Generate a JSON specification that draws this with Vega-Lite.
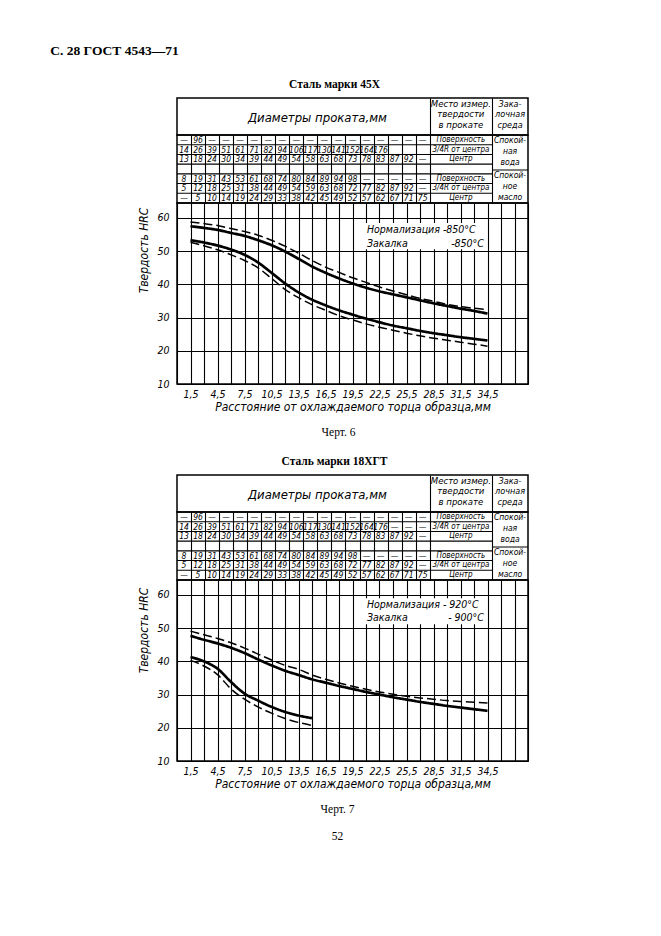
{
  "$schema": "https://vega.github.io/schema/vega-lite/v6.json",
  "background": "white",
  "padding": {"left": 50, "top": 44, "right": 5, "bottom": 5},
  "title": {"text": "С. 28 ГОСТ 4543—71", "anchor": "start", "font": "Liberation Serif", "fontSize": 13.5, "fontWeight": "bold", "color": "black", "dx": -86, "offset": 20},
  "spacing": 15,
  "datasets": {
    "cells45": [
      {"r":0,"c":0,"t":"—"},{"r":0,"c":1,"t":"96"},{"r":0,"c":2,"t":"—"},{"r":0,"c":3,"t":"—"},{"r":0,"c":4,"t":"—"},{"r":0,"c":5,"t":"—"},{"r":0,"c":6,"t":"—"},{"r":0,"c":7,"t":"—"},{"r":0,"c":8,"t":"—"},{"r":0,"c":9,"t":"—"},{"r":0,"c":10,"t":"—"},{"r":0,"c":11,"t":"—"},{"r":0,"c":12,"t":"—"},{"r":0,"c":13,"t":"—"},{"r":0,"c":14,"t":"—"},{"r":0,"c":15,"t":"—"},{"r":0,"c":16,"t":"—"},{"r":0,"c":17,"t":"—"},
      {"r":1,"c":0,"t":"14"},{"r":1,"c":1,"t":"26"},{"r":1,"c":2,"t":"39"},{"r":1,"c":3,"t":"51"},{"r":1,"c":4,"t":"61"},{"r":1,"c":5,"t":"71"},{"r":1,"c":6,"t":"82"},{"r":1,"c":7,"t":"94"},{"r":1,"c":8,"t":"106"},{"r":1,"c":9,"t":"117"},{"r":1,"c":10,"t":"130"},{"r":1,"c":11,"t":"141"},{"r":1,"c":12,"t":"152"},{"r":1,"c":13,"t":"164"},{"r":1,"c":14,"t":"176"},
      {"r":2,"c":0,"t":"13"},{"r":2,"c":1,"t":"18"},{"r":2,"c":2,"t":"24"},{"r":2,"c":3,"t":"30"},{"r":2,"c":4,"t":"34"},{"r":2,"c":5,"t":"39"},{"r":2,"c":6,"t":"44"},{"r":2,"c":7,"t":"49"},{"r":2,"c":8,"t":"54"},{"r":2,"c":9,"t":"58"},{"r":2,"c":10,"t":"63"},{"r":2,"c":11,"t":"68"},{"r":2,"c":12,"t":"73"},{"r":2,"c":13,"t":"78"},{"r":2,"c":14,"t":"83"},{"r":2,"c":15,"t":"87"},{"r":2,"c":16,"t":"92"},{"r":2,"c":17,"t":"—"},
      {"r":4,"c":0,"t":"8"},{"r":4,"c":1,"t":"19"},{"r":4,"c":2,"t":"31"},{"r":4,"c":3,"t":"43"},{"r":4,"c":4,"t":"53"},{"r":4,"c":5,"t":"61"},{"r":4,"c":6,"t":"68"},{"r":4,"c":7,"t":"74"},{"r":4,"c":8,"t":"80"},{"r":4,"c":9,"t":"84"},{"r":4,"c":10,"t":"89"},{"r":4,"c":11,"t":"94"},{"r":4,"c":12,"t":"98"},{"r":4,"c":13,"t":"—"},{"r":4,"c":14,"t":"—"},{"r":4,"c":15,"t":"—"},{"r":4,"c":16,"t":"—"},{"r":4,"c":17,"t":"—"},
      {"r":5,"c":0,"t":"5"},{"r":5,"c":1,"t":"12"},{"r":5,"c":2,"t":"18"},{"r":5,"c":3,"t":"25"},{"r":5,"c":4,"t":"31"},{"r":5,"c":5,"t":"38"},{"r":5,"c":6,"t":"44"},{"r":5,"c":7,"t":"49"},{"r":5,"c":8,"t":"54"},{"r":5,"c":9,"t":"59"},{"r":5,"c":10,"t":"63"},{"r":5,"c":11,"t":"68"},{"r":5,"c":12,"t":"72"},{"r":5,"c":13,"t":"77"},{"r":5,"c":14,"t":"82"},{"r":5,"c":15,"t":"87"},{"r":5,"c":16,"t":"92"},{"r":5,"c":17,"t":"—"},
      {"r":6,"c":0,"t":"—"},{"r":6,"c":1,"t":"5"},{"r":6,"c":2,"t":"10"},{"r":6,"c":3,"t":"14"},{"r":6,"c":4,"t":"19"},{"r":6,"c":5,"t":"24"},{"r":6,"c":6,"t":"29"},{"r":6,"c":7,"t":"33"},{"r":6,"c":8,"t":"38"},{"r":6,"c":9,"t":"42"},{"r":6,"c":10,"t":"45"},{"r":6,"c":11,"t":"49"},{"r":6,"c":12,"t":"52"},{"r":6,"c":13,"t":"57"},{"r":6,"c":14,"t":"62"},{"r":6,"c":15,"t":"67"},{"r":6,"c":16,"t":"71"},{"r":6,"c":17,"t":"75"}
    ],
    "extra18": [
      {"r":1,"c":15,"t":"—"},{"r":1,"c":16,"t":"—"},{"r":1,"c":17,"t":"—"}
    ],
    "mesto": [
      {"r":0,"t":"Поверхность"},{"r":1,"t":"3/4R от центра"},{"r":2,"t":"Центр"},
      {"r":4,"t":"Поверхность"},{"r":5,"t":"3/4R от центра"},{"r":6,"t":"Центр"}
    ],
    "bounds": [{"b":0.5},{"b":1.5},{"b":2.5},{"b":3.5},{"b":4.5},{"b":5.5}],
    "st45": [
      {"curve":"U1","kind":"1","mm":1.5,"hrc":57.5},{"curve":"U1","kind":"1","mm":3,"hrc":57},{"curve":"U1","kind":"1","mm":4.5,"hrc":56.4},{"curve":"U1","kind":"1","mm":6,"hrc":55.5},{"curve":"U1","kind":"1","mm":7.5,"hrc":54.6},{"curve":"U1","kind":"1","mm":9,"hrc":53.3},{"curve":"U1","kind":"1","mm":10.5,"hrc":51.8},{"curve":"U1","kind":"1","mm":12,"hrc":49.9},{"curve":"U1","kind":"1","mm":13.5,"hrc":47.7},{"curve":"U1","kind":"1","mm":15,"hrc":45.4},{"curve":"U1","kind":"1","mm":16.5,"hrc":43.5},{"curve":"U1","kind":"1","mm":18,"hrc":41.8},{"curve":"U1","kind":"1","mm":19.5,"hrc":40.3},{"curve":"U1","kind":"1","mm":21,"hrc":39},{"curve":"U1","kind":"1","mm":22.5,"hrc":37.9},{"curve":"U1","kind":"1","mm":24,"hrc":37},{"curve":"U1","kind":"1","mm":25.5,"hrc":36.1},{"curve":"U1","kind":"1","mm":27,"hrc":35.2},{"curve":"U1","kind":"1","mm":28.5,"hrc":34.3},{"curve":"U1","kind":"1","mm":30,"hrc":33.5},{"curve":"U1","kind":"1","mm":31.5,"hrc":32.7},{"curve":"U1","kind":"1","mm":33,"hrc":32},{"curve":"U1","kind":"1","mm":34.5,"hrc":31.2},
      {"curve":"U2","kind":"2","mm":1.5,"hrc":58.8},{"curve":"U2","kind":"2","mm":3,"hrc":58.3},{"curve":"U2","kind":"2","mm":4.5,"hrc":57.7},{"curve":"U2","kind":"2","mm":6,"hrc":56.8},{"curve":"U2","kind":"2","mm":7.5,"hrc":55.9},{"curve":"U2","kind":"2","mm":9,"hrc":54.8},{"curve":"U2","kind":"2","mm":10.5,"hrc":53.3},{"curve":"U2","kind":"2","mm":12,"hrc":51.5},{"curve":"U2","kind":"2","mm":13.5,"hrc":49.4},{"curve":"U2","kind":"2","mm":15,"hrc":47.2},{"curve":"U2","kind":"2","mm":16.5,"hrc":45.2},{"curve":"U2","kind":"2","mm":18,"hrc":43.6},{"curve":"U2","kind":"2","mm":19.5,"hrc":42},{"curve":"U2","kind":"2","mm":21,"hrc":40.6},{"curve":"U2","kind":"2","mm":22.5,"hrc":39.2},{"curve":"U2","kind":"2","mm":24,"hrc":38},{"curve":"U2","kind":"2","mm":25.5,"hrc":36.9},{"curve":"U2","kind":"2","mm":27,"hrc":35.8},{"curve":"U2","kind":"2","mm":28.5,"hrc":34.9},{"curve":"U2","kind":"2","mm":30,"hrc":34},{"curve":"U2","kind":"2","mm":31.5,"hrc":33.3},{"curve":"U2","kind":"2","mm":33,"hrc":32.8},{"curve":"U2","kind":"2","mm":34.5,"hrc":32.4},
      {"curve":"L1","kind":"1","mm":1.5,"hrc":53.3},{"curve":"L1","kind":"1","mm":3,"hrc":52.6},{"curve":"L1","kind":"1","mm":4.5,"hrc":51.7},{"curve":"L1","kind":"1","mm":6,"hrc":50.5},{"curve":"L1","kind":"1","mm":7.5,"hrc":48.9},{"curve":"L1","kind":"1","mm":9,"hrc":46.6},{"curve":"L1","kind":"1","mm":10.5,"hrc":43.5},{"curve":"L1","kind":"1","mm":12,"hrc":40.3},{"curve":"L1","kind":"1","mm":13.5,"hrc":37.6},{"curve":"L1","kind":"1","mm":15,"hrc":35.4},{"curve":"L1","kind":"1","mm":16.5,"hrc":33.7},{"curve":"L1","kind":"1","mm":18,"hrc":32.2},{"curve":"L1","kind":"1","mm":19.5,"hrc":30.9},{"curve":"L1","kind":"1","mm":21,"hrc":29.7},{"curve":"L1","kind":"1","mm":22.5,"hrc":28.6},{"curve":"L1","kind":"1","mm":24,"hrc":27.6},{"curve":"L1","kind":"1","mm":25.5,"hrc":26.8},{"curve":"L1","kind":"1","mm":27,"hrc":26},{"curve":"L1","kind":"1","mm":28.5,"hrc":25.3},{"curve":"L1","kind":"1","mm":30,"hrc":24.7},{"curve":"L1","kind":"1","mm":31.5,"hrc":24.1},{"curve":"L1","kind":"1","mm":33,"hrc":23.6},{"curve":"L1","kind":"1","mm":34.5,"hrc":23.1},
      {"curve":"L2","kind":"2","mm":1.5,"hrc":52.7},{"curve":"L2","kind":"2","mm":3,"hrc":51.6},{"curve":"L2","kind":"2","mm":4.5,"hrc":50.4},{"curve":"L2","kind":"2","mm":6,"hrc":48.9},{"curve":"L2","kind":"2","mm":7.5,"hrc":47.2},{"curve":"L2","kind":"2","mm":9,"hrc":45},{"curve":"L2","kind":"2","mm":10.5,"hrc":41.8},{"curve":"L2","kind":"2","mm":12,"hrc":38.5},{"curve":"L2","kind":"2","mm":13.5,"hrc":36},{"curve":"L2","kind":"2","mm":15,"hrc":33.9},{"curve":"L2","kind":"2","mm":16.5,"hrc":32.2},{"curve":"L2","kind":"2","mm":18,"hrc":30.6},{"curve":"L2","kind":"2","mm":19.5,"hrc":29.3},{"curve":"L2","kind":"2","mm":21,"hrc":28.1},{"curve":"L2","kind":"2","mm":22.5,"hrc":27.1},{"curve":"L2","kind":"2","mm":24,"hrc":26.2},{"curve":"L2","kind":"2","mm":25.5,"hrc":25.3},{"curve":"L2","kind":"2","mm":27,"hrc":24.5},{"curve":"L2","kind":"2","mm":28.5,"hrc":23.8},{"curve":"L2","kind":"2","mm":30,"hrc":23.2},{"curve":"L2","kind":"2","mm":31.5,"hrc":22.6},{"curve":"L2","kind":"2","mm":33,"hrc":22},{"curve":"L2","kind":"2","mm":34.5,"hrc":21.4}
    ],
    "st18": [
      {"curve":"U1","kind":"1","mm":1.5,"hrc":47.7},{"curve":"U1","kind":"1","mm":3,"hrc":46.5},{"curve":"U1","kind":"1","mm":4.5,"hrc":45.4},{"curve":"U1","kind":"1","mm":6,"hrc":44.1},{"curve":"U1","kind":"1","mm":7.5,"hrc":42.5},{"curve":"U1","kind":"1","mm":9,"hrc":40.6},{"curve":"U1","kind":"1","mm":10.5,"hrc":38.8},{"curve":"U1","kind":"1","mm":12,"hrc":37.2},{"curve":"U1","kind":"1","mm":13.5,"hrc":35.9},{"curve":"U1","kind":"1","mm":15,"hrc":34.6},{"curve":"U1","kind":"1","mm":16.5,"hrc":33.6},{"curve":"U1","kind":"1","mm":18,"hrc":32.6},{"curve":"U1","kind":"1","mm":19.5,"hrc":31.7},{"curve":"U1","kind":"1","mm":21,"hrc":30.8},{"curve":"U1","kind":"1","mm":22.5,"hrc":30},{"curve":"U1","kind":"1","mm":24,"hrc":29.2},{"curve":"U1","kind":"1","mm":25.5,"hrc":28.5},{"curve":"U1","kind":"1","mm":27,"hrc":27.8},{"curve":"U1","kind":"1","mm":28.5,"hrc":27.2},{"curve":"U1","kind":"1","mm":30,"hrc":26.6},{"curve":"U1","kind":"1","mm":31.5,"hrc":26.1},{"curve":"U1","kind":"1","mm":33,"hrc":25.6},{"curve":"U1","kind":"1","mm":34.5,"hrc":25.1},
      {"curve":"U2","kind":"2","mm":1.5,"hrc":49.1},{"curve":"U2","kind":"2","mm":3,"hrc":48},{"curve":"U2","kind":"2","mm":4.5,"hrc":46.9},{"curve":"U2","kind":"2","mm":6,"hrc":45.6},{"curve":"U2","kind":"2","mm":7.5,"hrc":44},{"curve":"U2","kind":"2","mm":9,"hrc":42.2},{"curve":"U2","kind":"2","mm":10.5,"hrc":40.4},{"curve":"U2","kind":"2","mm":12,"hrc":38.8},{"curve":"U2","kind":"2","mm":13.5,"hrc":37.6},{"curve":"U2","kind":"2","mm":15,"hrc":35.9},{"curve":"U2","kind":"2","mm":16.5,"hrc":34.6},{"curve":"U2","kind":"2","mm":18,"hrc":33.5},{"curve":"U2","kind":"2","mm":19.5,"hrc":32.5},{"curve":"U2","kind":"2","mm":21,"hrc":31.6},{"curve":"U2","kind":"2","mm":22.5,"hrc":30.8},{"curve":"U2","kind":"2","mm":24,"hrc":30.1},{"curve":"U2","kind":"2","mm":25.5,"hrc":29.5},{"curve":"U2","kind":"2","mm":27,"hrc":29},{"curve":"U2","kind":"2","mm":28.5,"hrc":28.6},{"curve":"U2","kind":"2","mm":30,"hrc":28.2},{"curve":"U2","kind":"2","mm":31.5,"hrc":27.9},{"curve":"U2","kind":"2","mm":33,"hrc":27.7},{"curve":"U2","kind":"2","mm":34.5,"hrc":27.5},
      {"curve":"L1","kind":"1","mm":1.5,"hrc":41.3},{"curve":"L1","kind":"1","mm":3,"hrc":40},{"curve":"L1","kind":"1","mm":4.5,"hrc":37.8},{"curve":"L1","kind":"1","mm":6,"hrc":33.8},{"curve":"L1","kind":"1","mm":7.5,"hrc":30.3},{"curve":"L1","kind":"1","mm":9,"hrc":28.2},{"curve":"L1","kind":"1","mm":10.5,"hrc":26.3},{"curve":"L1","kind":"1","mm":12,"hrc":24.8},{"curve":"L1","kind":"1","mm":13.5,"hrc":23.7},{"curve":"L1","kind":"1","mm":15,"hrc":22.9},
      {"curve":"L2","kind":"2","mm":1.5,"hrc":40.3},{"curve":"L2","kind":"2","mm":3,"hrc":38.6},{"curve":"L2","kind":"2","mm":4.5,"hrc":36},{"curve":"L2","kind":"2","mm":6,"hrc":31.7},{"curve":"L2","kind":"2","mm":7.5,"hrc":28.6},{"curve":"L2","kind":"2","mm":9,"hrc":26.3},{"curve":"L2","kind":"2","mm":10.5,"hrc":24.4},{"curve":"L2","kind":"2","mm":12,"hrc":22.8},{"curve":"L2","kind":"2","mm":13.5,"hrc":21.6},{"curve":"L2","kind":"2","mm":15,"hrc":20.7}
    ]
  },
  "vconcat": [
    {
      "spacing": 0,
      "bounds": "flush",
      "vconcat": [
        {
          "width": 351, "height": 37,
          "title": {"text": "Сталь марки 45Х", "font": "Liberation Serif", "fontSize": 11.5, "fontWeight": "bold", "color": "black", "offset": 8, "dx": -18},
          "layer": [
            {"data": {"values": [{"t": "Диаметры проката,мм"}]}, "mark": {"type": "text", "fontSize": 13}, "encoding": {
              "x": {"datum": 9.5, "type": "quantitative", "scale": {"domain": [-0.5, 24.5], "nice": false, "zero": false}, "axis": {"values": [17.5, 21.94], "tickCount": 200, "grid": true, "labels": false, "ticks": false, "domain": false, "title": null}},
              "y": {"datum": 0.46, "type": "quantitative", "scale": {"domain": [0, 1], "nice": false, "zero": false}, "axis": null},
              "text": {"field": "t"}}},
            {"data": {"values": [{"t": "Место измер.\nтвердости\nв прокате"}]}, "mark": {"type": "text", "fontSize": 9.5, "lineBreak": "\n", "lineHeight": 10.5}, "encoding": {
              "x": {"datum": 19.72, "type": "quantitative"}, "y": {"datum": 0.85, "type": "quantitative"}, "text": {"field": "t"}}},
            {"data": {"values": [{"t": "Зака-\nлочная\nсреда"}]}, "mark": {"type": "text", "fontSize": 9, "lineBreak": "\n", "lineHeight": 10.5}, "encoding": {
              "x": {"datum": 23.22, "type": "quantitative"}, "y": {"datum": 0.85, "type": "quantitative"}, "text": {"field": "t"}}}
          ]
        },
        {
          "width": 351, "height": 68,
          "layer": [
            {"data": {"name": "cells45"}, "mark": {"type": "text", "fontSize": 8.5}, "encoding": {
              "x": {"field": "c", "type": "quantitative", "scale": {"domain": [-0.5, 24.5], "nice": false, "zero": false}, "axis": {"values": [0.5,1.5,2.5,3.5,4.5,5.5,6.5,7.5,8.5,9.5,10.5,11.5,12.5,13.5,14.5,15.5,16.5,17.5,21.94], "tickCount": 200, "grid": true, "labels": false, "ticks": false, "domain": false, "title": null}},
              "y": {"field": "r", "type": "quantitative", "scale": {"domain": [-0.5, 6.5], "nice": false, "zero": false, "reverse": true}, "axis": null},
              "text": {"field": "t"}}},
            {"data": {"name": "mesto"}, "mark": {"type": "text", "fontSize": 8}, "encoding": {
              "x": {"datum": 19.72, "type": "quantitative"}, "y": {"field": "r", "type": "quantitative"}, "text": {"field": "t"}}},
            {"data": {"name": "bounds"}, "mark": {"type": "rule", "color": "black", "strokeWidth": 1.1}, "encoding": {
              "x": {"datum": -0.5, "type": "quantitative"}, "x2": {"datum": 21.94}, "y": {"field": "b", "type": "quantitative"}}},
            {"data": {"values": [{"t": "граница сред"}]}, "mark": {"type": "rule", "color": "black", "strokeWidth": 1.1}, "encoding": {
              "x": {"datum": 21.94, "type": "quantitative"}, "x2": {"datum": 24.5}, "y": {"datum": 3.1, "type": "quantitative"}}},
            {"data": {"values": [{"t": "Спокой-\nная\nвода"}]}, "mark": {"type": "text", "fontSize": 8.5, "lineBreak": "\n", "lineHeight": 11}, "encoding": {
              "x": {"datum": 23.22, "type": "quantitative"}, "y": {"datum": 0.05, "type": "quantitative"}, "text": {"field": "t"}}},
            {"data": {"values": [{"t": "Спокой-\nное\nмасло"}]}, "mark": {"type": "text", "fontSize": 8.5, "lineBreak": "\n", "lineHeight": 11}, "encoding": {
              "x": {"datum": 23.22, "type": "quantitative"}, "y": {"datum": 3.62, "type": "quantitative"}, "text": {"field": "t"}}}
          ]
        },
        {
          "width": 351, "height": 181,
          "title": {"text": "Черт. 6", "orient": "bottom", "font": "Liberation Serif", "fontSize": 11.5, "fontWeight": "normal", "color": "black", "offset": 14, "dx": -14},
          "layer": [
            {"data": {"name": "st45"}, "mark": {"type": "line", "interpolate": "monotone", "color": "black"}, "encoding": {
              "x": {"field": "mm", "type": "quantitative", "scale": {"domain": [0, 39], "nice": false, "zero": false},
                "axis": {"values": [0,1.5,3,4.5,6,7.5,9,10.5,12,13.5,15,16.5,18,19.5,21,22.5,24,25.5,27,28.5,30,31.5,33,34.5,36,37.5,39], "tickCount": 200, "format": ".1f", "labelExpr": "(datum.value % 3 == 1.5 && datum.value < 35) ? replace(datum.label, '.', ',') : ''", "labelOverlap": false, "labelFlush": false, "grid": true, "ticks": false, "domain": false, "labelPadding": 5, "title": "Расстояние от охлаждаемого торца образца,мм", "titlePadding": 2}},
              "y": {"field": "hrc", "type": "quantitative", "scale": {"domain": [10, 64.5], "nice": false, "zero": false},
                "axis": {"values": [10,20,30,40,50,60], "tickCount": 200, "format": "d", "grid": true, "ticks": false, "domain": false, "labelPadding": 8, "labelOverlap": false, "title": "Твердость HRC", "titleX": -34, "titleY": 47, "titleBaseline": "middle", "titleAngle": -90}},
              "detail": {"field": "curve"},
              "strokeDash": {"field": "kind", "type": "nominal", "scale": {"domain": ["1", "2"], "range": [[1, 0], [9, 4]]}, "legend": null},
              "strokeWidth": {"field": "kind", "type": "nominal", "scale": {"domain": ["1", "2"], "range": [2.7, 1.5]}, "legend": null}}},
            {"data": {"values": [{"t": "режим"}]}, "mark": {"type": "rect", "fill": "white"}, "encoding": {
              "x": {"datum": 20.6, "type": "quantitative"}, "x2": {"datum": 34.4}, "y": {"datum": 58.5, "type": "quantitative"}, "y2": {"datum": 50.6}}},
            {"data": {"values": [{"t": "Нормализация -850°С"}]}, "mark": {"type": "text", "fontSize": 10.5, "align": "left"}, "encoding": {
              "x": {"datum": 21.1, "type": "quantitative"}, "y": {"datum": 56.3, "type": "quantitative"}, "text": {"field": "t"}}},
            {"data": {"values": [{"t": "Закалка"}]}, "mark": {"type": "text", "fontSize": 10.5, "align": "left"}, "encoding": {
              "x": {"datum": 21.1, "type": "quantitative"}, "y": {"datum": 52.3, "type": "quantitative"}, "text": {"field": "t"}}},
            {"data": {"values": [{"t": "-850°С"}]}, "mark": {"type": "text", "fontSize": 10.5, "align": "right"}, "encoding": {
              "x": {"datum": 34.1, "type": "quantitative"}, "y": {"datum": 52.3, "type": "quantitative"}, "text": {"field": "t"}}}
          ]
        }
      ]
    },
    {
      "spacing": 0,
      "bounds": "flush",
      "vconcat": [
        {
          "width": 351, "height": 37,
          "title": {"text": "Сталь марки 18ХГТ", "font": "Liberation Serif", "fontSize": 11.5, "fontWeight": "bold", "color": "black", "offset": 8, "dx": -18},
          "layer": [
            {"data": {"values": [{"t": "Диаметры проката,мм"}]}, "mark": {"type": "text", "fontSize": 13}, "encoding": {
              "x": {"datum": 9.5, "type": "quantitative", "scale": {"domain": [-0.5, 24.5], "nice": false, "zero": false}, "axis": {"values": [17.5, 21.94], "tickCount": 200, "grid": true, "labels": false, "ticks": false, "domain": false, "title": null}},
              "y": {"datum": 0.46, "type": "quantitative", "scale": {"domain": [0, 1], "nice": false, "zero": false}, "axis": null},
              "text": {"field": "t"}}},
            {"data": {"values": [{"t": "Место измер.\nтвердости\nв прокате"}]}, "mark": {"type": "text", "fontSize": 9.5, "lineBreak": "\n", "lineHeight": 10.5}, "encoding": {
              "x": {"datum": 19.72, "type": "quantitative"}, "y": {"datum": 0.85, "type": "quantitative"}, "text": {"field": "t"}}},
            {"data": {"values": [{"t": "Зака-\nлочная\nсреда"}]}, "mark": {"type": "text", "fontSize": 9, "lineBreak": "\n", "lineHeight": 10.5}, "encoding": {
              "x": {"datum": 23.22, "type": "quantitative"}, "y": {"datum": 0.85, "type": "quantitative"}, "text": {"field": "t"}}}
          ]
        },
        {
          "width": 351, "height": 68,
          "layer": [
            {"data": {"name": "cells45"}, "mark": {"type": "text", "fontSize": 8.5}, "encoding": {
              "x": {"field": "c", "type": "quantitative", "scale": {"domain": [-0.5, 24.5], "nice": false, "zero": false}, "axis": {"values": [0.5,1.5,2.5,3.5,4.5,5.5,6.5,7.5,8.5,9.5,10.5,11.5,12.5,13.5,14.5,15.5,16.5,17.5,21.94], "tickCount": 200, "grid": true, "labels": false, "ticks": false, "domain": false, "title": null}},
              "y": {"field": "r", "type": "quantitative", "scale": {"domain": [-0.5, 6.5], "nice": false, "zero": false, "reverse": true}, "axis": null},
              "text": {"field": "t"}}},
            {"data": {"name": "extra18"}, "mark": {"type": "text", "fontSize": 8.5}, "encoding": {
              "x": {"field": "c", "type": "quantitative"}, "y": {"field": "r", "type": "quantitative"}, "text": {"field": "t"}}},
            {"data": {"name": "mesto"}, "mark": {"type": "text", "fontSize": 8}, "encoding": {
              "x": {"datum": 19.72, "type": "quantitative"}, "y": {"field": "r", "type": "quantitative"}, "text": {"field": "t"}}},
            {"data": {"name": "bounds"}, "mark": {"type": "rule", "color": "black", "strokeWidth": 1.1}, "encoding": {
              "x": {"datum": -0.5, "type": "quantitative"}, "x2": {"datum": 21.94}, "y": {"field": "b", "type": "quantitative"}}},
            {"data": {"values": [{"t": "граница сред"}]}, "mark": {"type": "rule", "color": "black", "strokeWidth": 1.1}, "encoding": {
              "x": {"datum": 21.94, "type": "quantitative"}, "x2": {"datum": 24.5}, "y": {"datum": 3.1, "type": "quantitative"}}},
            {"data": {"values": [{"t": "Спокой-\nная\nвода"}]}, "mark": {"type": "text", "fontSize": 8.5, "lineBreak": "\n", "lineHeight": 11}, "encoding": {
              "x": {"datum": 23.22, "type": "quantitative"}, "y": {"datum": 0.05, "type": "quantitative"}, "text": {"field": "t"}}},
            {"data": {"values": [{"t": "Спокой-\nное\nмасло"}]}, "mark": {"type": "text", "fontSize": 8.5, "lineBreak": "\n", "lineHeight": 11}, "encoding": {
              "x": {"datum": 23.22, "type": "quantitative"}, "y": {"datum": 3.62, "type": "quantitative"}, "text": {"field": "t"}}}
          ]
        },
        {
          "width": 351, "height": 181,
          "title": {"text": "Черт. 7", "subtitle": "52", "orient": "bottom", "font": "Liberation Serif", "fontSize": 11.5, "fontWeight": "normal", "color": "black", "subtitleFont": "Liberation Serif", "subtitleFontSize": 11.5, "subtitleColor": "black", "subtitlePadding": 16, "offset": 14, "dx": -15},
          "layer": [
            {"data": {"name": "st18"}, "mark": {"type": "line", "interpolate": "monotone", "color": "black"}, "encoding": {
              "x": {"field": "mm", "type": "quantitative", "scale": {"domain": [0, 39], "nice": false, "zero": false},
                "axis": {"values": [0,1.5,3,4.5,6,7.5,9,10.5,12,13.5,15,16.5,18,19.5,21,22.5,24,25.5,27,28.5,30,31.5,33,34.5,36,37.5,39], "tickCount": 200, "format": ".1f", "labelExpr": "(datum.value % 3 == 1.5 && datum.value < 35) ? replace(datum.label, '.', ',') : ''", "labelOverlap": false, "labelFlush": false, "grid": true, "ticks": false, "domain": false, "labelPadding": 5, "title": "Расстояние от охлаждаемого торца образца,мм", "titlePadding": 2}},
              "y": {"field": "hrc", "type": "quantitative", "scale": {"domain": [10, 64.5], "nice": false, "zero": false},
                "axis": {"values": [10,20,30,40,50,60], "tickCount": 200, "format": "d", "grid": true, "ticks": false, "domain": false, "labelPadding": 8, "labelOverlap": false, "title": "Твердость HRC", "titleX": -34, "titleY": 50, "titleBaseline": "middle", "titleAngle": -90}},
              "detail": {"field": "curve"},
              "strokeDash": {"field": "kind", "type": "nominal", "scale": {"domain": ["1", "2"], "range": [[1, 0], [9, 4]]}, "legend": null},
              "strokeWidth": {"field": "kind", "type": "nominal", "scale": {"domain": ["1", "2"], "range": [2.7, 1.5]}, "legend": null}}},
            {"data": {"values": [{"t": "режим"}]}, "mark": {"type": "rect", "fill": "white"}, "encoding": {
              "x": {"datum": 20.6, "type": "quantitative"}, "x2": {"datum": 34.4}, "y": {"datum": 59, "type": "quantitative"}, "y2": {"datum": 51.2}}},
            {"data": {"values": [{"t": "Нормализация - 920°С"}]}, "mark": {"type": "text", "fontSize": 10.5, "align": "left"}, "encoding": {
              "x": {"datum": 21.1, "type": "quantitative"}, "y": {"datum": 57, "type": "quantitative"}, "text": {"field": "t"}}},
            {"data": {"values": [{"t": "Закалка"}]}, "mark": {"type": "text", "fontSize": 10.5, "align": "left"}, "encoding": {
              "x": {"datum": 21.1, "type": "quantitative"}, "y": {"datum": 53, "type": "quantitative"}, "text": {"field": "t"}}},
            {"data": {"values": [{"t": "- 900°С"}]}, "mark": {"type": "text", "fontSize": 10.5, "align": "right"}, "encoding": {
              "x": {"datum": 34.1, "type": "quantitative"}, "y": {"datum": 53, "type": "quantitative"}, "text": {"field": "t"}}}
          ]
        }
      ]
    }
  ],
  "config": {
    "view": {"stroke": "black", "strokeWidth": 1.5},
    "text": {"font": "'DejaVu Sans Condensed', 'Liberation Sans Narrow', 'DejaVu Sans', sans-serif", "fontStyle": "italic", "color": "black", "baseline": "middle"},
    "axis": {"gridColor": "black", "gridOpacity": 1, "gridWidth": 1.1, "labelColor": "black", "titleColor": "black", "labelFont": "'DejaVu Sans Condensed', 'Liberation Sans Narrow', 'DejaVu Sans', sans-serif", "labelFontStyle": "italic", "labelFontSize": 10.5, "titleFont": "'DejaVu Sans Condensed', 'Liberation Sans Narrow', 'DejaVu Sans', sans-serif", "titleFontStyle": "italic", "titleFontWeight": "normal", "titleFontSize": 12}
  }
}
